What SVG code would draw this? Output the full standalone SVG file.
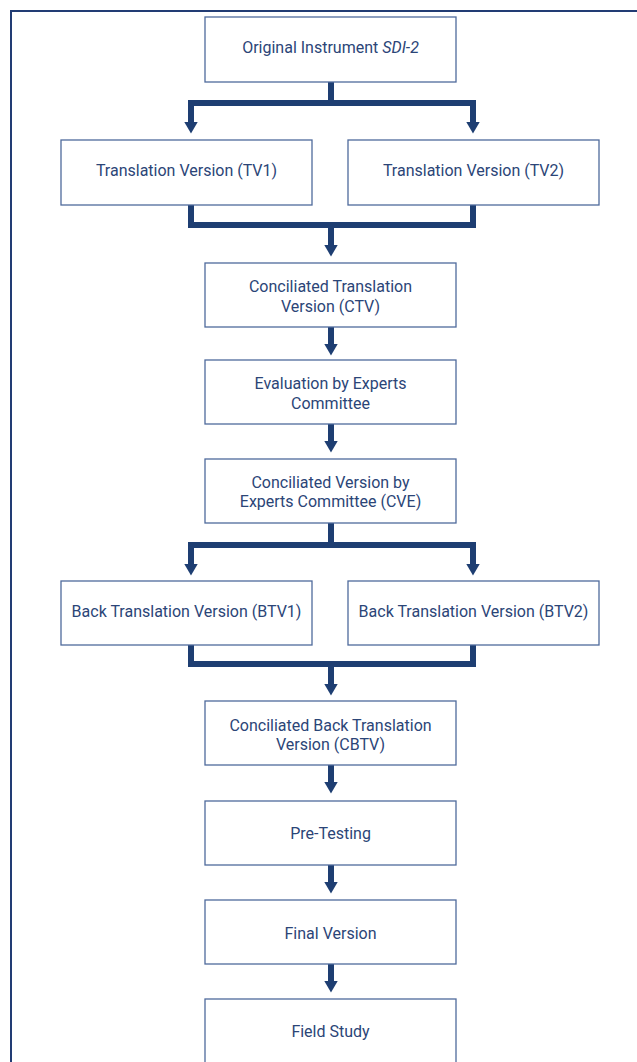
<svg xmlns="http://www.w3.org/2000/svg" width="637" height="1062" viewBox="0 0 637 1062">
<style>
.frame{fill:none;stroke:#223c74;stroke-width:2}
.box{fill:#fff;stroke:#4f6a9c;stroke-width:1.3}
.lbl{font-family:Roboto,"Liberation Sans",sans-serif;font-size:16px;fill:#2b4577;text-anchor:middle}
.con{fill:none;stroke:#1e3e72;stroke-width:6;stroke-linejoin:miter;marker-end:url(#ah)}
.seg{fill:none;stroke:#1e3e72;stroke-width:6;stroke-linejoin:miter}
</style>
<defs>
<marker id="ah" markerUnits="userSpaceOnUse" viewBox="0 0 12 14" refX="0.5" refY="7" markerWidth="12" markerHeight="14" orient="auto">
<path d="M0,0 L12,7 L0,14 Z" fill="#1e3e72"/>
</marker>
</defs>
<rect width="637" height="1062" fill="#fff"/>
<path class="frame" d="M11,1062 V11 H637"/>
<g id="connectors">
<path class="con" d="M331,82 V103 H191 V122"/>
<path class="con" d="M331,103 H473 V122"/>
<path class="seg" d="M191,205 V225 H473 V205"/>
<path class="con" d="M331,225 V245"/>
<path class="con" d="M331,327 V344"/>
<path class="con" d="M331,424 V441"/>
<path class="con" d="M331,523 V545 H191 V564"/>
<path class="con" d="M331,545 H473 V564"/>
<path class="seg" d="M191,645 V664 H473 V645"/>
<path class="con" d="M331,664 V684"/>
<path class="con" d="M331,765 V782"/>
<path class="con" d="M331,865 V882"/>
<path class="con" d="M331,964 V981"/>
</g>
<g id="orig"><rect class="box" x="205" y="17" width="251" height="65"/><text class="lbl" x="330.5" y="53">Original Instrument <tspan font-style="italic">SDI-2</tspan></text></g>
<g id="tv1"><rect class="box" x="61" y="140" width="251" height="65"/><text class="lbl" x="186.5" y="176">Translation Version (TV1)</text></g>
<g id="tv2"><rect class="box" x="348" y="140" width="251" height="65"/><text class="lbl" x="473.5" y="176">Translation Version (TV2)</text></g>
<g id="ctv"><rect class="box" x="205" y="263" width="251" height="64"/><text class="lbl" x="330.5" y="292">Conciliated Translation</text><text class="lbl" x="330.5" y="312">Version (CTV)</text></g>
<g id="eval"><rect class="box" x="205" y="360" width="251" height="64"/><text class="lbl" x="330.5" y="389">Evaluation by Experts</text><text class="lbl" x="330.5" y="409">Committee</text></g>
<g id="cve"><rect class="box" x="205" y="459" width="251" height="64"/><text class="lbl" x="330.5" y="488">Conciliated Version by</text><text class="lbl" x="330.5" y="507">Experts Committee (CVE)</text></g>
<g id="btv1"><rect class="box" x="61" y="581" width="251" height="64"/><text class="lbl" x="186.5" y="617">Back Translation Version (BTV1)</text></g>
<g id="btv2"><rect class="box" x="348" y="581" width="251" height="64"/><text class="lbl" x="473.5" y="617">Back Translation Version (BTV2)</text></g>
<g id="cbtv"><rect class="box" x="205" y="701" width="251" height="64"/><text class="lbl" x="330.5" y="731">Conciliated Back Translation</text><text class="lbl" x="330.5" y="750">Version (CBTV)</text></g>
<g id="pretest"><rect class="box" x="205" y="801" width="251" height="64"/><text class="lbl" x="330.5" y="839">Pre-Testing</text></g>
<g id="final"><rect class="box" x="205" y="900" width="251" height="64"/><text class="lbl" x="330.5" y="939">Final Version</text></g>
<g id="field"><rect class="box" x="205" y="999" width="251" height="70"/><text class="lbl" x="330.5" y="1037">Field Study</text></g>
</svg>
